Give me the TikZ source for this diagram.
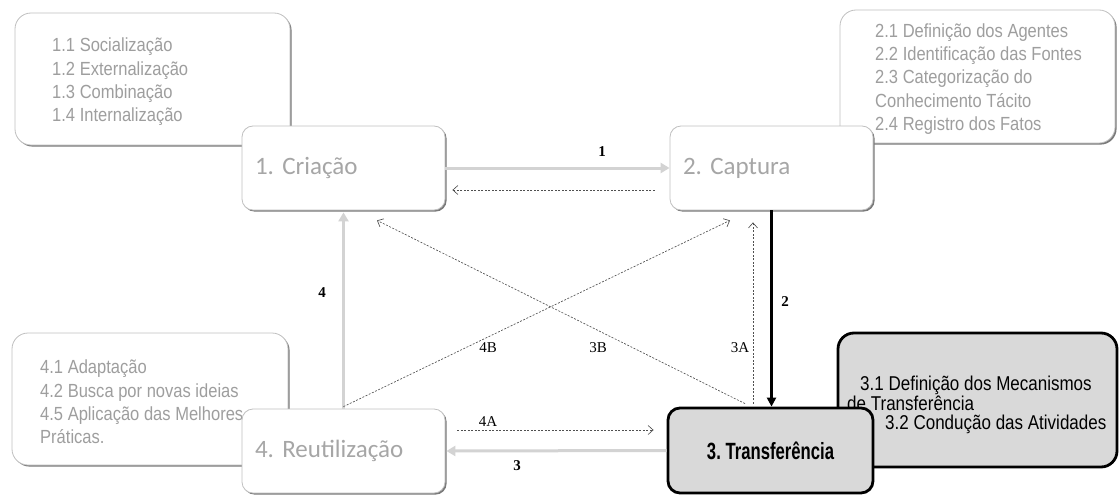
\documentclass[tikz,border=0pt]{standalone}
\usepackage{fontspec}
\setmainfont{Liberation Sans}
\newfontfamily\detailfont[FakeStretch=0.87]{Liberation Sans}
\newfontfamily\stagefont{Carlito}
\newfontfamily\narrowsans[FakeStretch=0.85]{Liberation Sans}
\newfontfamily\narrowbold[FakeStretch=0.71]{Liberation Sans Bold}
\newfontfamily\labelserif{Liberation Serif}
\usetikzlibrary{arrows.meta,calc,shadows}
\frenchspacing

\definecolor{txtgray}{HTML}{9E9E9E}
\definecolor{stagegray}{HTML}{A6A6A6}
\definecolor{edgegray}{HTML}{C0C0C0}
\definecolor{shadegray}{HTML}{7A7A7A}
\definecolor{flowgray}{HTML}{D3D3D3}
\definecolor{dashgray}{HTML}{505050}
\definecolor{boxfill}{HTML}{D9D9D9}

\tikzset{
  softbox/.style={draw=edgegray, line width=0.8pt, fill=white, inner sep=0pt,
    drop shadow={shadow xshift=1.6pt, shadow yshift=-1.6pt, fill=shadegray, opacity=1}},
  hardbox/.style={draw=black, line width=2.8pt, fill=boxfill, inner sep=0pt},
  detailtext/.style={font=\detailfont\fontsize{19}{23.3}\selectfont, text=txtgray, align=left, inner sep=0pt},
  stagetext/.style={font=\stagefont\fontsize{25}{30}\selectfont, text=stagegray, align=left,
    text width=177pt, inner xsep=13pt, inner ysep=0pt, minimum height=84pt},
  flow/.style={draw=flowgray, line width=3pt, -{Triangle[length=9pt,width=10pt]}},
  mainflow/.style={draw=black, line width=2.6pt, -{Triangle[length=9pt,width=9pt]}},
  feedback/.style={draw=dashgray, line width=0.65pt, dash pattern=on 2pt off 1.5pt,
    -{Straight Barb[length=5pt,width=9pt]}},
  steplabel/.style={font=\labelserif\fontsize{15}{15}\selectfont, inner sep=1pt},
  boldlabel/.style={font=\labelserif\bfseries\fontsize{15}{15}\selectfont, inner sep=1pt}
}

\begin{document}
\begin{tikzpicture}[x=1pt,y=-1pt]
\useasboundingbox (0,0) rectangle (1119,495);

% sub-activity boxes (behind the stage boxes)
\node[softbox, rounded corners=16pt, minimum width=275pt, minimum height=132pt] (d1) at (152.5,79) {};
\node[detailtext, anchor=west] (d1t) at (52,82)
  {1.1 Socialização\\1.2 Externalização\\1.3 Combinação\\1.4 Internalização};

\node[softbox, rounded corners=16pt, minimum width=275pt, minimum height=133pt] (d2) at (977.5,76.5) {};
\node[detailtext, anchor=west] (d2t) at (875,79)
  {2.1 Definição dos Agentes\\2.2 Identificação das Fontes\\2.3 Categorização do\\Conhecimento Tácito\\2.4 Registro dos Fatos};

\node[softbox, rounded corners=16pt, minimum width=276pt, minimum height=132pt] (d4) at (150,399) {};
\node[detailtext, anchor=west] (d4t) at (40,402)
  {4.1 Adaptação\\4.2 Busca por novas ideias\\4.5 Aplicação das Melhores\\Práticas.};

\node[hardbox, rounded corners=16pt, minimum width=279pt, minimum height=134pt] (d3) at (977.5,400) {};
\node[anchor=west, align=left, inner sep=0pt,
      font=\narrowsans\fontsize{20}{19.5}\selectfont] (d3t) at (847,405)
  {\hspace*{13pt}3.1 Definição dos Mecanismos\\de Transferência\\\hspace*{38pt}3.2 Condução das Atividades};

% stage boxes
\node[softbox, rounded corners=11pt, stagetext] (c1) at (343.5,168) {1. Criação};
\node[softbox, rounded corners=11pt, stagetext] (c2) at (771.5,168) {2. Captura};
\node[softbox, rounded corners=11pt, stagetext] (c4) at (343.5,451) {4. Reutilização};
\node[hardbox, rounded corners=12pt, minimum width=205pt, minimum height=85pt,
      font=\narrowbold\fontsize{23.5}{26}\selectfont] (c3) at (770.5,450.5) {3. Transferência};

% main cycle
\draw[flow] (c1.east) -- (c2.west);
\draw[mainflow] (c2.south) -- (c2.south |- c3.north);
\draw[flow, shorten >=1pt] (c3.west) -- (c4.east);
\draw[flow, shorten >=2pt] (c4.north) -- (c4.north |- c1.south);

% feedback paths
\draw[feedback] ([xshift=-15pt,yshift=-22pt]c2.west) -- ([xshift=7pt,yshift=-22pt]c1.east);
\draw[feedback] ([xshift=12pt,yshift=21pt]c4.east) -- ([xshift=-13pt,yshift=20.5pt]c3.west);
\draw[feedback] ([xshift=-17.5pt,yshift=3pt]c3.north) -- ([xshift=-18.5pt,yshift=-12pt]c2.south);
\draw[feedback] ([xshift=-25.5pt,yshift=3pt]c3.north) -- ([xshift=33.5pt,yshift=-10pt]c1.south);
\draw[feedback] ([yshift=2pt]c4.north) -- ([xshift=-41.5pt,yshift=-10pt]c2.south);

% labels
\node[boldlabel] (l1) at (602,152) {1};
\node[boldlabel] (l2) at (785,302) {2};
\node[boldlabel] (l3) at (517,466) {3};
\node[boldlabel] (l4) at (322,293) {4};
\node[steplabel] (l3a) at (740,348) {3A};
\node[steplabel] (l3b) at (598,348) {3B};
\node[steplabel] (l4b) at (488,348) {4B};
\node[steplabel] (l4a) at (488,422) {4A};
\end{tikzpicture}
\end{document}
